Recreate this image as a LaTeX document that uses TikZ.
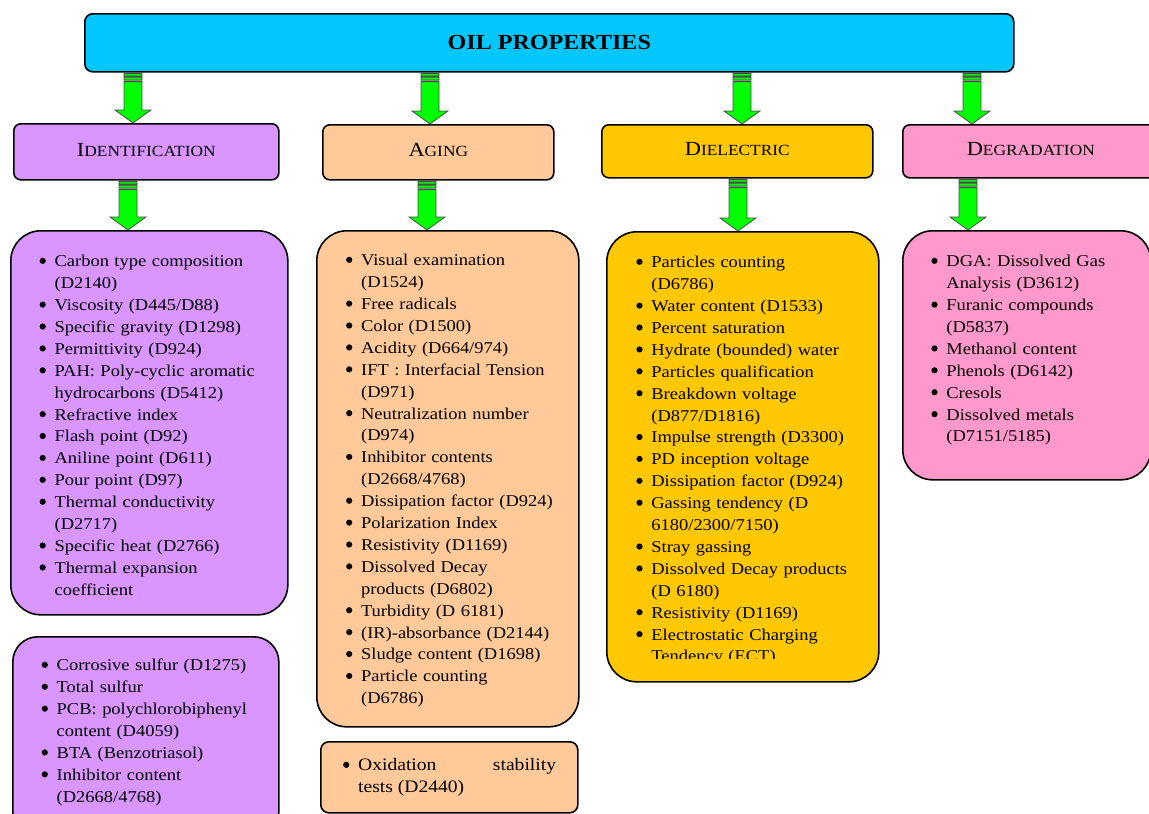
\documentclass[tikz,border=0pt]{standalone}
\usepackage{fontspec}
\setmainfont{Liberation Serif}[FakeStretch=1.12]
\usetikzlibrary{calc}
\definecolor{titlecyan}{RGB}{0,200,255}
\definecolor{identc}{RGB}{218,150,255}
\definecolor{agingc}{RGB}{255,201,153}
\definecolor{dielc}{RGB}{255,200,0}
\definecolor{degc}{RGB}{255,153,204}
\definecolor{agreen}{RGB}{0,255,0}
\newlength{\bind}\setlength{\bind}{15pt}
\newcommand{\brk}{\hfil\break}
\newcommand{\bdot}{\raisebox{2.8pt}{\tikz\fill[black] (0pt,0pt) circle (3.1pt);}}
\newcommand{\bitem}[1]{\noindent\hangindent=\bind\hangafter=1\makebox[\bind][l]{\bdot}\strut#1\par}
\newcommand{\fsc}[2]{\raisebox{4pt}{{\fontsize{20}{20}\selectfont #1}{\fontsize{15.5}{20}\selectfont #2}}}
\newcommand{\garrow}[3]{%
  \draw[arrowline] let \p1=(#2), \p2=(#3) in
    (#1pt-9pt,\y1-1pt) rectangle (#1pt+9pt,\y1-3.5pt)
    (#1pt-9pt,\y1-4.5pt) rectangle (#1pt+9pt,\y1-7.5pt)
    (#1pt-9pt,\y1-9pt) -- (#1pt-9pt,\y2+13pt) -- (#1pt-18pt,\y2+13pt) -- (#1pt,\y2)
    -- (#1pt+18pt,\y2+13pt) -- (#1pt+9pt,\y2+13pt) -- (#1pt+9pt,\y1-9pt) -- cycle;
}
\tikzset{
  box/.style={draw=black, line width=1.6pt, anchor=north west, inner sep=0pt},
  hdr/.style={box, rounded corners=7pt},
  lst/.style={box, rounded corners=30pt},
  listtext/.style={anchor=north west, inner sep=0pt, text width=260pt, align=left,
    font=\fontsize{16.5}{21.9}\selectfont},
  arrowline/.style={fill=agreen, draw=black!70, line width=0.8pt},
}
\begin{document}
\begin{tikzpicture}[x=1pt,y=-1pt]
\useasboundingbox (0,0) rectangle (1149,814);
% title
\node[box, fill=titlecyan, rounded corners=8pt, minimum width=929pt, minimum height=58pt,
  font=\fontsize{21.5}{22}\selectfont\bfseries] (title) at (84,13) {OIL PROPERTIES};
% headers
\node[hdr, fill=identc, minimum width=265pt, minimum height=56pt] (hIdent) at (13,123) {\fsc{I}{DENTIFICATION}};
\node[hdr, fill=agingc, minimum width=231pt, minimum height=55pt] (hAging) at (322,124) {\fsc{A}{GING}};
\node[hdr, fill=dielc, minimum width=271pt, minimum height=53pt] (hDiel) at (601,124) {\fsc{D}{IELECTRIC}};
\node[hdr, fill=degc, minimum width=256pt, minimum height=53pt] (hDeg) at (902,124) {\fsc{D}{EGRADATION}};
% list boxes
\node[lst, fill=identc, minimum width=277pt, minimum height=384pt] (lIdent) at (10,230) {};
\node[lst, fill=agingc, minimum width=262pt, minimum height=496pt] (lAging) at (316,230) {};
\node[lst, fill=dielc, minimum width=272pt, minimum height=450pt] (lDiel) at (606,231) {};
\node[lst, fill=degc, minimum width=248pt, minimum height=249pt] (lDeg) at (902,230) {};
\node[box, rounded corners=25pt, fill=identc, minimum width=266pt, minimum height=200pt] (bIdent) at (12,636) {};
\node[box, rounded corners=8pt, fill=agingc, minimum width=257pt, minimum height=71pt] (bAging) at (320,741) {};
% arrows
\garrow{133}{title.south}{hIdent.north}
\garrow{430}{title.south}{hAging.north}
\garrow{742}{title.south}{hDiel.north}
\garrow{972}{title.south}{hDeg.north}
\garrow{128}{hIdent.south}{lIdent.north}
\garrow{427}{hAging.south}{lAging.north}
\garrow{738}{hDiel.south}{lDiel.north}
\garrow{968}{hDeg.south}{lDeg.north}
% texts
\node[listtext] (tIdent) at (39.4,251.2) {%
\bitem{Carbon type composition\brk (D2140)}
\bitem{Viscosity (D445/D88)}
\bitem{Specific gravity (D1298)}
\bitem{Permittivity (D924)}
\bitem{PAH: Poly-cyclic aromatic\brk hydrocarbons (D5412)}
\bitem{Refractive index}
\bitem{Flash point (D92)}
\bitem{Aniline point (D611)}
\bitem{Pour point (D97)}
\bitem{Thermal conductivity\brk (D2717)}
\bitem{Specific heat (D2766)}
\bitem{Thermal expansion\brk coefficient}};
\node[listtext] (tAging) at (345.9,250.2) {%
\bitem{Visual examination\brk (D1524)}
\bitem{Free radicals}
\bitem{Color (D1500)}
\bitem{Acidity (D664/974)}
\bitem{IFT : Interfacial Tension\brk (D971)}
\bitem{Neutralization number\brk (D974)}
\bitem{Inhibitor contents\brk (D2668/4768)}
\bitem{Dissipation factor (D924)}
\bitem{Polarization Index}
\bitem{Resistivity (D1169)}
\bitem{Dissolved Decay\brk products (D6802)}
\bitem{Turbidity (D 6181)}
\bitem{(IR)-absorbance (D2144)}
\bitem{Sludge content (D1698)}
\bitem{Particle counting\brk (D6786)}};
\begin{scope}
\clip (600,228) rectangle (880,658.5);
\node[listtext] (tDiel) at (636.2,252.2) {%
\bitem{Particles counting\brk (D6786)}
\bitem{Water content (D1533)}
\bitem{Percent saturation}
\bitem{Hydrate (bounded) water}
\bitem{Particles qualification}
\bitem{Breakdown voltage\brk (D877/D1816)}
\bitem{Impulse strength (D3300)}
\bitem{PD inception voltage}
\bitem{Dissipation factor (D924)}
\bitem{Gassing tendency (D\brk 6180/2300/7150)}
\bitem{Stray gassing}
\bitem{Dissolved Decay products\brk (D 6180)}
\bitem{Resistivity (D1169)}
\bitem{Electrostatic Charging\brk Tendency (ECT)}};
\end{scope}
\node[listtext] (tDeg) at (931.2,251.2) {%
\bitem{DGA: Dissolved Gas\brk Analysis (D3612)}
\bitem{Furanic compounds\brk (D5837)}
\bitem{Methanol content}
\bitem{Phenols (D6142)}
\bitem{Cresols}
\bitem{Dissolved metals\brk (D7151/5185)}};
\node[listtext] (tIdentB) at (41.5,655.2) {%
\bitem{Corrosive sulfur (D1275)}
\bitem{Total sulfur}
\bitem{PCB: polychlorobiphenyl\brk content (D4059)}
\bitem{BTA (Benzotriasol)}
\bitem{Inhibitor content\brk (D2668/4768)}};
\node[anchor=north west, inner sep=0pt, text width=213pt, align=justify,
  font=\fontsize{17.5}{21.9}\selectfont] (tAgingB) at (342.9,755.2) {%
\noindent\hangindent=\bind\hangafter=1\makebox[\bind][l]{\bdot}\strut Oxidation stability\linebreak tests (D2440)\par};
\end{tikzpicture}
\end{document}
